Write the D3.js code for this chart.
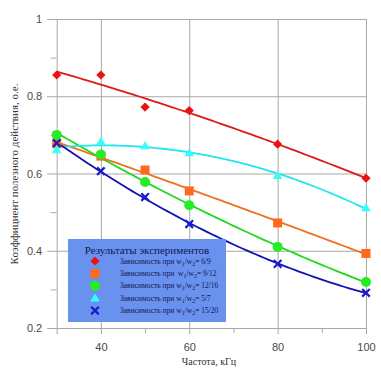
<!doctype html>
<html lang="en">
<head>
  <meta charset="utf-8">
  <script src="https://d3js.org/d3.v7.min.js"></script>
  <style>
    body { margin: 0; background: #fff; }
    svg { display: block; }
  </style>
</head>
<body>
  <script>
    // data
    var freq = [30, 40, 50, 60, 80, 100];
    var eff69 = [0.855, 0.855, 0.772, 0.763, 0.676, 0.588];
    var eff912 = [0.677, 0.645, 0.609, 0.555, 0.472, 0.393];
    var eff1216 = [0.700, 0.649, 0.578, 0.518, 0.410, 0.319];
    var eff57 = [0.661, 0.682, 0.671, 0.653, 0.594, 0.511];
    var eff1520 = [0.679, 0.606, 0.539, 0.469, 0.366, 0.291];
    var seriesNames = ["6/9", "9/12", "12/16", "5/7", "15/20"];
    var legendGaps = ["", " ", "", "", ""];
    var xTicks = [30, 40, 60, 80, 100];
    var xMinor = [50, 70, 90];
    var yTicks = [0.2, 0.4, 0.6, 0.8, 1];
    var yMinor = [0.3, 0.5, 0.7, 0.9];

    var width = 381, height = 370;
    // plot box (window.top is taken, so no "top" here)
    var pL = 56.7, pR = 366, pT = 19, pB = 328;

    var svg = d3.select("body").append("svg")
        .attr("width", width)
        .attr("height", height);

    var x = d3.scaleLinear().domain([30, 100]).range([pL, pR]);
    var y = d3.scaleLinear().domain([0.2, 1]).range([pB, pT]);

    // grid + axes
    svg.append("g")
        .attr("transform", "translate(" + (pL - 9.5) + ",0)")
        .call(d3.axisLeft(y).tickValues(yTicks).tickSize(-(pR - pL + 9.5)).tickPadding(5)
          .tickFormat(function(d) { return d === 1 ? "1" : d.toFixed(1); }));
    svg.append("g")
        .attr("transform", "translate(0," + (pB + 6) + ")")
        .call(d3.axisBottom(x).tickValues(xTicks).tickSize(-(pB - pT + 6)).tickPadding(9)
          .tickFormat(function(d) { return d === 30 ? "" : d; }));
    svg.append("g")
        .attr("transform", "translate(" + pL + ",0)")
        .call(d3.axisLeft(y).tickValues(yMinor).tickSize(6).tickFormat(""));
    svg.append("g")
        .attr("transform", "translate(0," + pB + ")")
        .call(d3.axisBottom(x).tickValues(xMinor).tickSize(5).tickFormat(""));

    svg.selectAll(".domain").remove();
    svg.selectAll(".tick line").attr("stroke", "#a8a8a8").attr("stroke-width", 1);
    svg.selectAll(".tick text")
        .attr("fill", "#4a4a4a")
        .style("font-family", "Arial, 'Liberation Sans', sans-serif")
        .style("font-size", "11px");

    // quadratic least-squares trend, like the original fit lines
    function quadFit(xs, ys) {
      var s = [0, 0, 0, 0, 0], t = [0, 0, 0];
      xs.forEach(function(xv, i) {
        for (var k = 0; k < 5; k++) s[k] += Math.pow(xv, k);
        for (var k2 = 0; k2 < 3; k2++) t[k2] += ys[i] * Math.pow(xv, k2);
      });
      var m = [[s[0], s[1], s[2], t[0]], [s[1], s[2], s[3], t[1]], [s[2], s[3], s[4], t[2]]];
      for (var i = 0; i < 3; i++) {
        for (var j = i + 1; j < 3; j++) {
          var f = m[j][i] / m[i][i];
          for (var c = i; c < 4; c++) m[j][c] -= f * m[i][c];
        }
      }
      var b = [0, 0, 0];
      for (var r = 2; r >= 0; r--) {
        var v = m[r][3];
        for (var c2 = r + 1; c2 < 3; c2++) v -= m[r][c2] * b[c2];
        b[r] = v / m[r][r];
      }
      return function(xv) { return b[0] + b[1] * xv + b[2] * xv * xv; };
    }

    var series = [
      { vals: eff69, line: "#dd1a1a", fill: "#ee1111", shape: "diamond" },
      { vals: eff912, line: "#f07020", fill: "#ff6a1a", shape: "square" },
      { vals: eff1216, line: "#1fd81f", fill: "#22ee22", shape: "circle" },
      { vals: eff57, line: "#22e6ee", fill: "#33ffff", shape: "triangle" },
      { vals: eff1520, line: "#1212b4", fill: "#1a1acc", shape: "cross" }
    ];

    var line = d3.line()
        .x(function(d) { return x(d[0]); })
        .y(function(d) { return y(d[1]); });
    var xs = d3.range(30, 100.01, 1);

    series.forEach(function(s) {
      var fit = quadFit(freq, s.vals);
      svg.append("path")
          .datum(xs.map(function(v) { return [v, fit(v)]; }))
          .attr("d", line)
          .attr("fill", "none")
          .attr("stroke", s.line)
          .attr("stroke-width", 1.8);
    });

    function marker(g, s, cx, cy) {
      if (s.shape === "diamond") {
        g.append("path").attr("d", "M0,-4.6L4.6,0L0,4.6L-4.6,0Z")
          .attr("transform", "translate(" + cx + "," + cy + ")").attr("fill", s.fill);
      } else if (s.shape === "square") {
        g.append("rect").attr("x", cx - 4.5).attr("y", cy - 4.5).attr("width", 9).attr("height", 9)
          .attr("fill", s.fill);
      } else if (s.shape === "circle") {
        g.append("circle").attr("cx", cx).attr("cy", cy).attr("r", 5).attr("fill", s.fill);
      } else if (s.shape === "triangle") {
        g.append("path").attr("d", d3.symbol(d3.symbolTriangle, 40)())
          .attr("transform", "translate(" + cx + "," + (cy + 0.5) + ")").attr("fill", s.fill);
      } else {
        g.append("path").attr("d", "M-3.8,-3.8L3.8,3.8M-3.8,3.8L3.8,-3.8")
          .attr("transform", "translate(" + cx + "," + cy + ")")
          .attr("stroke", s.fill).attr("stroke-width", 2.2).attr("fill", "none");
      }
    }

    series.forEach(function(s) {
      var g = svg.append("g");
      freq.forEach(function(f, i) { marker(g, s, x(f), y(s.vals[i])); });
    });

    // axis titles
    svg.append("text")
        .attr("transform", "translate(18,174) rotate(-90)")
        .attr("text-anchor", "middle")
        .attr("fill", "#333")
        .style("font-family", "'Liberation Serif', 'Times New Roman', serif")
        .style("font-size", "11px")
        .text("Коэффициент полезного действия, о.е.");
    svg.append("text")
        .attr("x", 209).attr("y", 365)
        .attr("text-anchor", "middle")
        .attr("fill", "#333")
        .style("font-family", "'Liberation Serif', 'Times New Roman', serif")
        .style("font-size", "10px")
        .text("Частота, кГц");

    // legend
    var lg = svg.append("g");
    lg.append("rect")
        .attr("x", 68).attr("y", 239).attr("width", 158).attr("height", 83)
        .attr("fill", "#6892ee");
    lg.append("text")
        .attr("x", 147).attr("y", 254)
        .attr("text-anchor", "middle")
        .attr("fill", "#161650")
        .style("font-family", "'Liberation Serif', 'Times New Roman', serif")
        .style("font-size", "11px")
        .text("Результаты экспериментов");
    series.forEach(function(s, i) {
      var cy = 261 + i * 12.4;
      marker(lg, s, 95, cy);
      var t = lg.append("text")
          .attr("x", 120).attr("y", cy + 2.5)
          .attr("fill", "#161650")
          .style("font-family", "'Liberation Serif', 'Times New Roman', serif")
          .style("font-size", "7.5px")
          .attr("xml:space", "preserve");
      t.append("tspan").text("Зависимость при " + legendGaps[i] + "w");
      t.append("tspan").attr("dy", 2).style("font-size", "6px").text("1");
      t.append("tspan").attr("dy", -2).text("/w");
      t.append("tspan").attr("dy", 2).style("font-size", "6px").text("2");
      t.append("tspan").attr("dy", -2).text("= " + seriesNames[i]);
    });
  </script>
</body>
</html>
